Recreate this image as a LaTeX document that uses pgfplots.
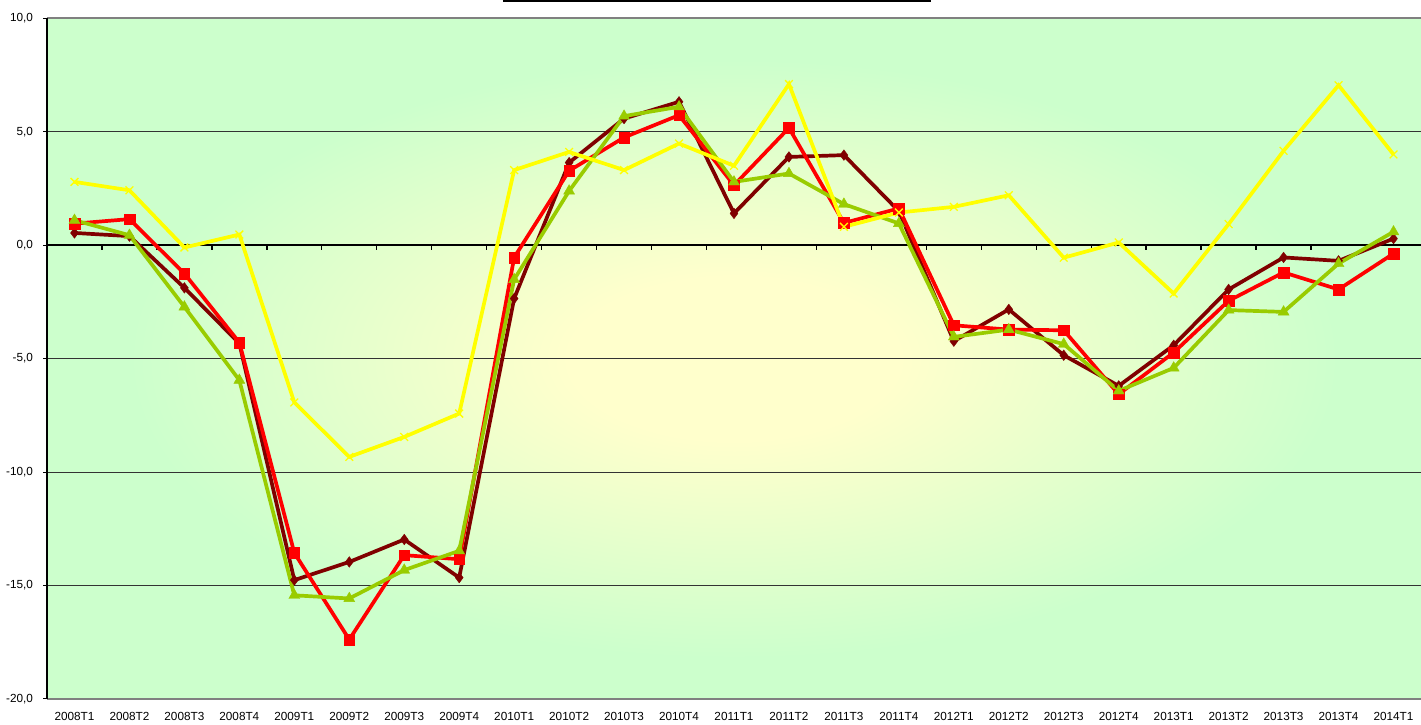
\documentclass[border=0pt]{standalone}
\usepackage{pgfplots}
\pgfplotsset{compat=1.18}
\usepackage{pgfplotstable}
\usepackage{fontspec}
\setmainfont{Liberation Sans}

\definecolor{cDR}{HTML}{800000}
\definecolor{cR}{HTML}{FF0000}
\definecolor{cG}{HTML}{99CC00}
\definecolor{cY}{HTML}{FFFF00}
\definecolor{bgY}{HTML}{FFFFCC}
\definecolor{bgG}{HTML}{CCFFCC}
\pgfdeclareradialshading{bgshade}{\pgfpoint{0bp}{0bp}}{color(0bp)=(bgY); color(6bp)=(bgY); color(22bp)=(bgG); color(50bp)=(bgG)}

\pgfplotstableread{
idx dr r g y
0 0.54 0.95 1.10 2.79
1 0.40 1.15 0.44 2.42
2 -1.88 -1.25 -2.72 -0.10
3 -4.33 -4.29 -5.95 0.47
4 -14.76 -13.56 -15.43 -6.93
5 -13.96 -17.38 -15.57 -9.33
6 -12.97 -13.66 -14.32 -8.45
7 -14.65 -13.84 -13.47 -7.42
8 -2.35 -0.54 -1.51 3.31
9 3.64 3.28 2.39 4.11
10 5.58 4.75 5.69 3.31
11 6.32 5.73 6.10 4.48
12 1.40 2.64 2.79 3.50
13 3.89 5.17 3.16 7.10
14 3.97 0.98 1.81 0.81
15 1.50 1.62 0.96 1.44
16 -4.23 -3.53 -4.04 1.69
17 -2.83 -3.72 -3.72 2.20
18 -4.85 -3.75 -4.36 -0.55
19 -6.20 -6.57 -6.42 0.12
20 -4.41 -4.73 -5.41 -2.13
21 -1.95 -2.45 -2.86 0.93
22 -0.54 -1.20 -2.94 4.16
23 -0.69 -1.95 -0.81 7.05
24 0.29 -0.37 0.59 4.00
}\datatable

\begin{document}
\begin{tikzpicture}
\path[use as bounding box] (-47bp,-26bp) rectangle (1374bp,699bp);
\begin{axis}[
  at={(0,0)}, anchor=south west,
  scale only axis,
  width=1374bp, height=680.7bp,
  xmin=-0.5, xmax=24.5,
  ymin=-20, ymax=10,
  axis line style={draw=none},
  axis background/.style={shade, shading=bgshade},
  clip=false,
  font=\fontsize{11.8}{14}\selectfont,
  xtick={0,...,24},
  xticklabels={2008T1,2008T2,2008T3,2008T4,2009T1,2009T2,2009T3,2009T4,2010T1,2010T2,2010T3,2010T4,2011T1,2011T2,2011T3,2011T4,2012T1,2012T2,2012T3,2012T4,2013T1,2013T2,2013T3,2013T4,2014T1},
  xtick style={draw=none},
  xticklabel style={anchor=north, yshift=-10bp},
  ytick={-20,-15,-10,-5,0,5,10},
  yticklabels={{-20,0},{-15,0},{-10,0},{-5,0},{0,0},{5,0},{10,0}},
  ytick style={draw=none},
  yticklabel style={anchor=east, xshift=-10.5bp},
]
% grid lines
\draw[black!80, line width=0.8bp] (axis cs:-0.5,5) -- (axis cs:24.5,5);
\draw[black!80, line width=0.8bp] (axis cs:-0.5,-5) -- (axis cs:24.5,-5);
\draw[black!80, line width=0.8bp] (axis cs:-0.5,-10) -- (axis cs:24.5,-10);
\draw[black!80, line width=0.8bp] (axis cs:-0.5,-15) -- (axis cs:24.5,-15);
% borders
\draw[gray, line width=1.6bp] (axis cs:-0.5,10) -- (axis cs:24.5,10);
\draw[gray, line width=1.6bp] (axis cs:-0.5,-20) -- (axis cs:24.5,-20);
\draw[black, line width=1.2bp] (axis cs:-0.5,-20) -- (axis cs:-0.5,10);
% y ticks
\pgfplotsinvokeforeach{-20,-15,-10,-5,0,5,10}{
  \draw[black, line width=1bp] (axis cs:-0.5,#1) -- (axis cs:-0.575,#1);
}
% zero line and its ticks
\draw[black, line width=2.6bp] (axis cs:-0.5,0) -- (axis cs:24.5,0);
\pgfplotsinvokeforeach{0.5,1.5,2.5,3.5,4.5,5.5,6.5,7.5,8.5,9.5,10.5,11.5,12.5,13.5,14.5,15.5,16.5,17.5,18.5,19.5,20.5,21.5,22.5,23.5}{
  \draw[black, line width=1.4bp] (axis cs:#1,0) -- (axis cs:#1,-0.2);
}
% title underline
\draw[black, line width=2.4bp] (axis cs:7.797,10.765) -- (axis cs:15.584,10.765);

\addplot[cDR, line width=3.7bp, mark=diamond*, mark size=5.3bp, mark options={solid, line width=0.4bp, fill=cDR}] table[x=idx, y=dr] {\datatable};
\addplot[cR, line width=3.7bp, mark=square*, mark size=5.3bp, mark options={solid, line width=0.4bp, fill=cR}] table[x=idx, y=r] {\datatable};
\addplot[cG, line width=3.7bp, mark=triangle*, mark size=6.3bp, mark options={solid, line width=0.4bp, fill=cG}] table[x=idx, y=g] {\datatable};
\addplot[cY, line width=3.7bp, mark=x, mark size=5.5bp, mark options={solid, line width=1.3bp}] table[x=idx, y=y] {\datatable};
\end{axis}
\end{tikzpicture}
\end{document}
